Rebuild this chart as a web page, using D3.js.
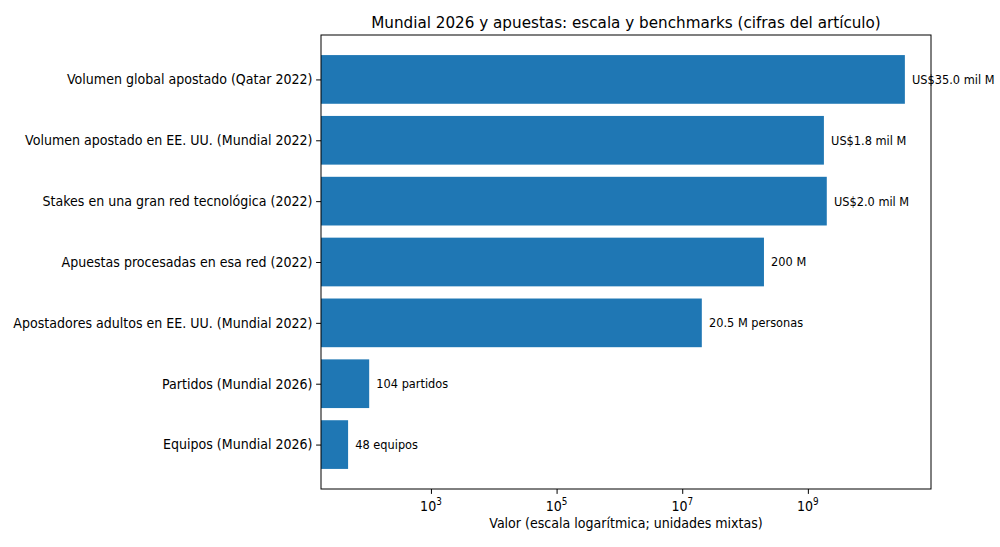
<!DOCTYPE html>
<html>
<head>
<meta charset="utf-8">
<script src="https://cdn.jsdelivr.net/npm/d3@7"></script>
<style>
  body { margin: 0; background: #fff; }
  text { font-family: "DejaVu Sans", sans-serif; fill: #000; }
</style>
</head>
<body>
<div id="chart"></div>
<script>
// Chart data
const categories = [
  'Volumen global apostado (Qatar 2022)',
  'Volumen apostado en EE. UU. (Mundial 2022)',
  'Stakes en una gran red tecnológica (2022)',
  'Apuestas procesadas en esa red (2022)',
  'Apostadores adultos en EE. UU. (Mundial 2022)',
  'Partidos (Mundial 2026)',
  'Equipos (Mundial 2026)'
];
const values = [35.0e9, 1.8e9, 2.0e9, 200e6, 20.5e6, 104, 48];
const valueLabels = ['US$35.0 mil M', 'US$1.8 mil M', 'US$2.0 mil M', '200 M', '20.5 M personas', '104 partidos', '48 equipos'];
const tickValues = [1e3, 1e5, 1e7, 1e9];
const tickExps = ['3', '5', '7', '9'];

const width = 1000, height = 547;
const margin = { top: 35, right: 69, bottom: 58, left: 321 };
const sx = 0.91; // text is a bit narrower than tall in the reference

const svg = d3.select('#chart').append('svg')
  .attr('width', width)
  .attr('height', height);

const x = d3.scaleLog()
  .domain([Math.pow(10, 1.25), Math.pow(10, 10.96)])
  .range([margin.left, width - margin.right]);

const y = d3.scaleLinear()
  .domain([-0.73, categories.length - 1 + 0.73])
  .range([margin.top, height - margin.bottom]);

const barH = y(0.8) - y(0);

// place a text at (px, py) squeezed horizontally
function place(px, py) {
  return `translate(${px},${py}) scale(${sx},1)`;
}

// bars
svg.append('g')
  .selectAll('rect')
  .data(values)
  .enter().append('rect')
  .attr('x', x.range()[0])
  .attr('y', (d, i) => y(i) - barH / 2)
  .attr('width', d => x(d) - x.range()[0])
  .attr('height', barH)
  .attr('fill', '#1f77b4');

// frame
svg.append('rect')
  .attr('x', margin.left)
  .attr('y', margin.top)
  .attr('width', width - margin.right - margin.left)
  .attr('height', height - margin.bottom - margin.top)
  .attr('fill', 'none')
  .attr('stroke', '#000')
  .attr('stroke-width', 1);

// value labels
svg.append('g')
  .selectAll('text')
  .data(values)
  .enter().append('text')
  .attr('transform', (d, i) => place(x(d * 1.3), y(i)))
  .attr('dy', '0.35em')
  .attr('font-size', 12.5)
  .text((d, i) => valueLabels[i]);

// x axis
const xAxis = svg.append('g')
  .attr('transform', `translate(0,${height - margin.bottom})`)
  .call(d3.axisBottom(x).tickValues(tickValues).tickSize(4.9).tickFormat(''));
xAxis.select('.domain').remove();
xAxis.selectAll('line').attr('stroke', '#000');

const xl = svg.append('g').selectAll('text')
  .data(tickValues)
  .enter().append('text')
  .attr('transform', d => place(x(d), height - margin.bottom + 22))
  .attr('text-anchor', 'middle')
  .attr('font-size', 13.9);
xl.append('tspan').text('10');
xl.append('tspan')
  .attr('font-size', 9.7)
  .attr('dy', -6)
  .text((d, i) => tickExps[i]);

svg.append('text')
  .attr('transform', place((margin.left + width - margin.right) / 2, height - margin.bottom + 39))
  .attr('text-anchor', 'middle')
  .attr('font-size', 13.9)
  .text('Valor (escala logarítmica; unidades mixtas)');

// y axis
const yAxis = svg.append('g')
  .attr('transform', `translate(${margin.left},0)`)
  .call(d3.axisLeft(y).tickValues(d3.range(categories.length)).tickSize(4.9).tickFormat(''));
yAxis.select('.domain').remove();
yAxis.selectAll('line').attr('stroke', '#000');

svg.append('g').selectAll('text')
  .data(categories)
  .enter().append('text')
  .attr('transform', (d, i) => place(margin.left - 8.5, y(i)))
  .attr('dy', '0.35em')
  .attr('text-anchor', 'end')
  .attr('font-size', 13.9)
  .text(d => d);

// title
svg.append('text')
  .attr('transform', place((margin.left + width - margin.right) / 2, margin.top - 7))
  .attr('text-anchor', 'middle')
  .attr('font-size', 16.7)
  .text('Mundial 2026 y apuestas: escala y benchmarks (cifras del artículo)');
</script>
</body>
</html>
